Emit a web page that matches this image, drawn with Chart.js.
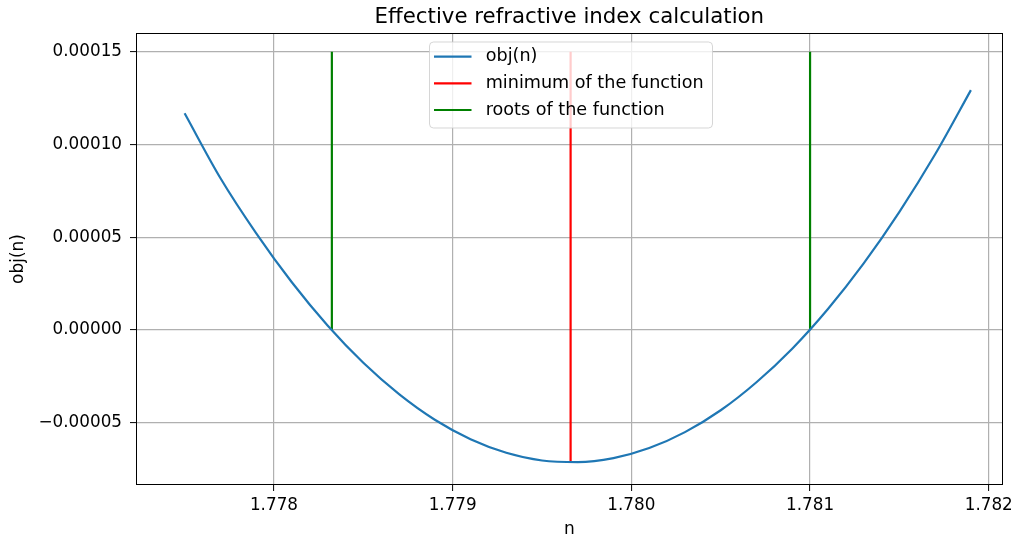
<!DOCTYPE html>
<html>
<head>
<meta charset="utf-8">
<script src="https://cdn.jsdelivr.net/npm/chart.js@4.4.0/dist/chart.umd.min.js"></script>
<style>
  html, body { margin: 0; padding: 0; background: #fff; }
  #wrap { width: 1018px; height: 540px; }
</style>
</head>
<body>
<div id="wrap"><canvas id="c" width="1018" height="540"></canvas></div>
<script>
// ---- data ----
const nValues = [1.7775, 1.7777, 1.7779, 1.7781, 1.7783, 1.7785, 1.7787, 1.7789, 1.7791, 1.7793, 1.7795,
                 1.7797, 1.7799, 1.7801, 1.7803, 1.7805, 1.7807, 1.7809, 1.7811, 1.7813, 1.7815, 1.7817, 1.7819];
const objValues = [0.0001168, 0.0000819, 0.0000522, 0.0000257, 0.0000024, -0.0000177, -0.0000346, -0.0000484,
                   -0.0000589, -0.0000662, -0.0000704, -0.0000713, -0.0000691, -0.0000637, -0.0000551, -0.0000433,
                   -0.0000282, -0.0000101, 0.0000113, 0.0000359, 0.0000637, 0.0000947, 0.0001293];
const minimumN = 1.77966;
const minimumValue = -0.0000714;
const rootsN = [1.778324, 1.781];
const markerTop = 0.00015;
const xTicks = [1.778, 1.779, 1.780, 1.781, 1.782];
const yTicks = [-0.00005, 0, 0.00005, 0.0001, 0.00015];
const seriesLabels = ['obj(n)', 'minimum of the function', 'roots of the function'];
const titleText = 'Effective refractive index calculation';

const FONT = 'DejaVu Sans';

const curveData = nValues.map((n, i) => ({ x: n, y: objValues[i] }));
const minData = [{ x: minimumN, y: minimumValue }, { x: minimumN, y: markerTop }];
const rootData = [];
rootsN.forEach((r, i) => {
  if (i > 0) rootData.push({ x: r, y: null });
  rootData.push({ x: r, y: 0 }, { x: r, y: markerTop });
});

const decorPlugin = {
  id: 'decor',
  afterDatasetsDraw(chart) {
    const { ctx, chartArea: a } = chart;
    ctx.save();
    ctx.strokeStyle = '#000';
    ctx.lineWidth = 1;
    ctx.strokeRect(Math.round(a.left) + 0.5, Math.round(a.top) + 0.5,
                   Math.round(a.right - a.left) - 1, Math.round(a.bottom - a.top) - 1);
    ctx.restore();
  },
  afterDraw(chart) {
    const { ctx, chartArea: a } = chart;
    ctx.save();
    // title
    ctx.fillStyle = '#000';
    ctx.font = `21.3px "${FONT}"`;
    ctx.textAlign = 'center';
    ctx.textBaseline = 'alphabetic';
    ctx.fillText(titleText, (a.left + a.right) / 2, 23);
    // legend
    const bx = 429.5, by = 42, bw = 283, bh = 86, r = 4;
    ctx.beginPath();
    ctx.moveTo(bx + r, by);
    ctx.arcTo(bx + bw, by, bx + bw, by + bh, r);
    ctx.arcTo(bx + bw, by + bh, bx, by + bh, r);
    ctx.arcTo(bx, by + bh, bx, by, r);
    ctx.arcTo(bx, by, bx + bw, by, r);
    ctx.closePath();
    ctx.fillStyle = 'rgba(255,255,255,0.8)';
    ctx.fill();
    ctx.strokeStyle = 'rgba(204,204,204,0.8)';
    ctx.lineWidth = 1;
    ctx.stroke();
    ctx.font = `17.6px "${FONT}"`;
    ctx.textAlign = 'left';
    ctx.textBaseline = 'middle';
    chart.data.datasets.forEach((ds, i) => {
      const y = 56.7 + i * 26.65;
      ctx.beginPath();
      ctx.moveTo(434, y);
      ctx.lineTo(471.5, y);
      ctx.strokeStyle = ds.borderColor;
      ctx.lineWidth = 2.2;
      ctx.stroke();
      ctx.fillStyle = '#000';
      ctx.fillText(ds.label, 485.7, y);
    });
    ctx.restore();
  }
};

new Chart(document.getElementById('c'), {
  type: 'line',
  data: {
    datasets: [
      { label: seriesLabels[0], data: curveData, borderColor: '#1f77b4', borderWidth: 2.2,
        pointRadius: 0, cubicInterpolationMode: 'monotone', fill: false },
      { label: seriesLabels[1], data: minData, borderColor: '#ff0000', borderWidth: 2.2,
        pointRadius: 0, fill: false },
      { label: seriesLabels[2], data: rootData, borderColor: '#008000', borderWidth: 2.2,
        pointRadius: 0, fill: false, spanGaps: false }
    ]
  },
  options: {
    responsive: false,
    animation: false,
    events: [],
    layout: { padding: { top: 33, right: 13, left: 0, bottom: 0 } },
    plugins: {
      legend: { display: false },
      title: { display: false },
      tooltip: { enabled: false }
    },
    scales: {
      x: {
        type: 'linear',
        min: 1.777228,
        max: 1.782078,
        afterBuildTicks: s => { s.ticks = xTicks.map(v => ({ value: v })); },
        afterFit: s => { s.height = 55; },
        border: { display: false },
        grid: { color: '#b0b0b0', lineWidth: 1.2, tickLength: 6, tickColor: '#000', tickWidth: 1 },
        ticks: {
          color: '#000', font: { family: FONT, size: 16.8 }, padding: 5, maxRotation: 0,
          callback: v => v.toFixed(3)
        },
        title: { display: true, text: 'n', color: '#000', font: { family: FONT, size: 17 }, padding: 0 }
      },
      y: {
        type: 'linear',
        min: -0.0000836,
        max: 0.0001601,
        afterBuildTicks: s => { s.ticks = yTicks.map(v => ({ value: v })); },
        afterFit: s => { s.width = 136; },
        border: { display: false },
        grid: { color: '#b0b0b0', lineWidth: 1.2, tickLength: 6, tickColor: '#000', tickWidth: 1 },
        ticks: {
          color: '#000', font: { family: FONT, size: 16.8 }, padding: 8,
          callback: v => (v < 0 ? '\u2212' : '') + Math.abs(v).toFixed(5)
        },
        title: { display: true, text: 'obj(n)', color: '#000', font: { family: FONT, size: 17 }, padding: 8 }
      }
    }
  },
  plugins: [decorPlugin]
});
</script>
</body>
</html>
